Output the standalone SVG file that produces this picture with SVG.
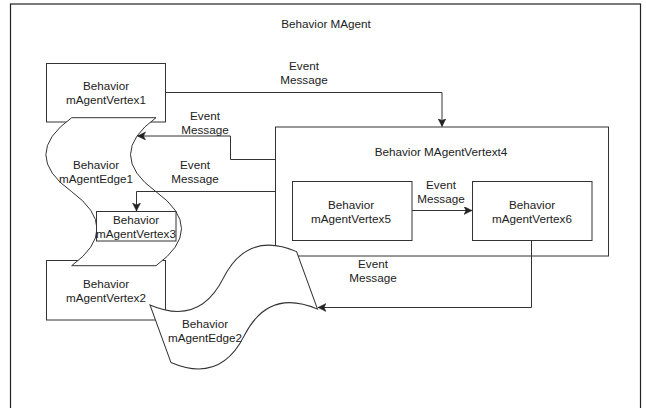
<svg xmlns="http://www.w3.org/2000/svg" width="646" height="408" viewBox="0 0 646 408">
<defs>
<marker id="arr" markerWidth="10" markerHeight="10" refX="8" refY="4" orient="auto" markerUnits="userSpaceOnUse">
<path d="M0,0 L8,4 L0,8 L2,4 Z" fill="#222" stroke="#222" stroke-width="0.5"/>
</marker>
<style>
.box{fill:#fff;stroke:#333;stroke-width:1}
.frame{fill:#fff;stroke:#222;stroke-width:1.2}
.t{font-family:"Liberation Sans",Arial,sans-serif;font-size:11.7px;fill:#222;text-anchor:middle}
.c{fill:none;stroke:#333;stroke-width:1;marker-end:url(#arr)}
</style>
</defs>
<rect class="frame" x="10.5" y="4" width="630" height="420"/>
<text class="t" x="326" y="28">Behavior MAgent</text>
<g id="vertex1">
<rect class="box" x="46.5" y="63.5" width="119" height="58.5"/>
<text class="t" x="106" y="89.5">Behavior</text>
<text class="t" x="106" y="103.5">mAgentVertex1</text>
</g>
<g id="vertex2">
<rect class="box" x="46.5" y="260.5" width="119" height="59.5"/>
<text class="t" x="106" y="288">Behavior</text>
<text class="t" x="106" y="302">mAgentVertex2</text>
</g>
<g id="edge1">
<path class="box" d="M71.7,117.7 Q20,154.7 71.7,191.7 Q122.3,228.7 71.7,265.7 L156,265.7 Q207,228.7 156,191.7 Q105,154.7 156,117.7 Z"/>
<text class="t" x="96" y="169">Behavior</text>
<text class="t" x="96" y="183">mAgentEdge1</text>
</g>
<g id="vertex3">
<rect class="box" x="96.5" y="211.5" width="79.5" height="29.5"/>
<text class="t" x="136" y="223.5">Behavior</text>
<text class="t" x="136" y="237.5">mAgentVertex3</text>
</g>
<g id="vertex4">
<rect class="box" x="275.5" y="127" width="333" height="129"/>
<text class="t" x="441" y="156">Behavior MAgentVertext4</text>
</g>
<g id="vertex5">
<rect class="box" x="292.5" y="181.5" width="119.5" height="59"/>
<text class="t" x="351" y="209">Behavior</text>
<text class="t" x="351" y="223">mAgentVertex5</text>
</g>
<g id="vertex6">
<rect class="box" x="472.5" y="181.5" width="119.5" height="59"/>
<text class="t" x="532" y="209">Behavior</text>
<text class="t" x="532" y="223">mAgentVertex6</text>
</g>
<g id="edge2">
<path class="box" transform="translate(143,285.8) rotate(-20)" d="M0,20.4 Q39,57.1 78,20.4 Q117,-16.3 156,20.4 L156,81.6 Q117,44.9 78,81.6 Q39,118.3 0,81.6 Z"/>
<text class="t" x="205" y="328">Behavior</text>
<text class="t" x="205" y="342">mAgentEdge2</text>
</g>
<g id="connectors">
<path class="c" d="M166,92.5 H442 V126.5"/>
<path class="c" d="M275,159.5 H230.5 V136 H137.5"/>
<path class="c" d="M275,191.5 H136.5 V211"/>
<path class="c" d="M412,210.5 H472"/>
<path class="c" d="M531.5,240.7 V307.5 H318"/>
<text class="t" x="304" y="70">Event</text>
<text class="t" x="304" y="84">Message</text>
<text class="t" x="205" y="120">Event</text>
<text class="t" x="205" y="134">Message</text>
<text class="t" x="195" y="169">Event</text>
<text class="t" x="195" y="183">Message</text>
<text class="t" x="441" y="189">Event</text>
<text class="t" x="441" y="203">Message</text>
<text class="t" x="373" y="268">Event</text>
<text class="t" x="373" y="282">Message</text>
</g>
</svg>
